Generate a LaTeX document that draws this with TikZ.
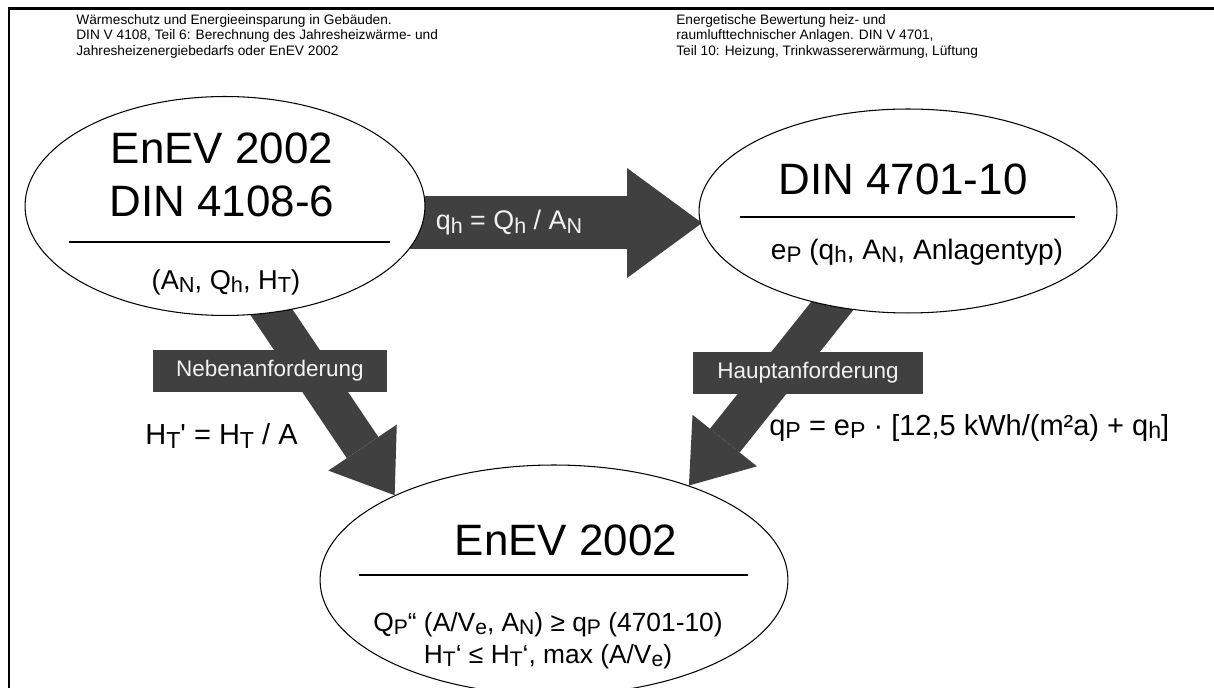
\documentclass[tikz,border=0pt]{standalone}
\usepackage{fontspec}
\setmainfont{Liberation Sans}
\usetikzlibrary{shapes.geometric,arrows.meta,positioning}
\pgfdeclarelayer{behind}
\pgfsetlayers{behind,main}
\definecolor{arrowgray}{HTML}{404040}
\definecolor{labelwhite}{HTML}{F2F2F2}
\newcommand{\sub}[1]{\raisebox{-0.12em}{\scalebox{0.8}{#1}}}

\begin{document}
\begin{tikzpicture}[x=0.02cm,y=-0.02cm]
	% Define the styles for the ovals, the block arrows and the texts
	\tikzset{
		oval/.style 2 args={ellipse, draw=black, line width=0.6pt, fill=white, inner sep=0pt,
			minimum width=#1, minimum height=#2},
		block arrow/.style n args={3}{draw=arrowgray, line width=#1,
			-{Triangle[length=#2, width=#3, line width=0pt]}},
		title/.style={font=\fontsize{25}{30}\selectfont, align=center, inner sep=0pt},
		formula/.style={font=\fontsize{#1}{18.2}\selectfont, align=center, inner sep=0pt},
		source/.style={font=\fontsize{7.8}{8.9}\selectfont, align=left, anchor=north west, inner sep=0pt},
		tag/.style={fill=arrowgray, text=labelwhite, font=\fontsize{12.8}{15}\selectfont,
			minimum width=#1, minimum height=0.84cm, inner sep=0pt}
	}
	
	\useasboundingbox (0,0) rectangle (1214,688);
	
	% Frame at the top and on the left
	\draw[line width=1.7pt] (9,688) -- (9,9) -- (1214,9);
	
	% Sources above the ovals
	\node[source] (srcleft) at (76,14) {Wärmeschutz und Energieeinsparung in Gebäuden.\\
		DIN V 4108, Teil 6: Berechnung des Jahresheizwärme- und\\
		Jahresheizenergiebedarfs oder EnEV 2002};
	\node[source] (srcright) at (676,14) {Energetische Bewertung heiz- und\\
		raumlufttechnischer Anlagen. DIN V 4701,\\
		Teil 10: Heizung, Trinkwassererwärmung, Lüftung};
	
	% Ovals
	\node[oval={8cm}{4.38cm}] (left) at (225,206) {};
	\node[oval={8.36cm}{4.08cm}] (right) at (908,211) {};
	\node[oval={9.36cm}{4.6cm}] (bottom) at (554,580) {};
	
	% Texts inside the ovals
	\node[title] (lefttitle) at (222,175) {EnEV 2002\\DIN 4108-6};
	\draw[line width=0.6pt] (69,242) -- (390,242);
	\node[formula=15.5] (leftsub) at (226,282) {(A\sub{N}, Q\sub{h}, H\sub{T})};
	
	\node[title] (righttitle) at (903,179) {DIN 4701-10};
	\draw[line width=0.6pt] (740,217) -- (1075,217);
	\node[formula=16] (rightsub) at (917,252) {e\sub{P} (q\sub{h}, A\sub{N}, Anlagentyp)};
	
	\node[title] (bottomtitle) at (566,540) {EnEV 2002};
	\draw[line width=0.6pt] (359,575) -- (748,575);
	\node[formula=15] (bottomsub) at (548,641) {Q\sub{P}“ (A/V\sub{e}, A\sub{N}) ≥ q\sub{P} (4701-10)\\
		H\sub{T}‘ ≤ H\sub{T}‘, max (A/V\sub{e})};
	
	% Block arrows behind the ovals
	\coordinate (qtip) at (702,223);
	\begin{pgfonlayer}{behind}
		\draw[block arrow={1.06cm}{1.5cm}{2.2cm}] (left.center |- qtip) -- (qtip);
		\draw[block arrow={0.76cm}{1.15cm}{1.65cm}] ([xshift=-0.5cm]left.center) -- (bottom.152);
		\draw[block arrow={0.76cm}{1.15cm}{1.65cm}] (right.center) -- (bottom.35);
	\end{pgfonlayer}
	
	% Labels on and beside the arrows
	\node[formula=15.3, text=labelwhite] (qhlabel) at (509,223) {q\sub{h} = Q\sub{h} / A\sub{N}};
	\node[tag=4.7cm] (neben) at (270,371) {Nebenanforderung};
	\node[tag=4.6cm] (haupt) at (808,373) {Hauptanforderung};
	\node[formula=16.5, anchor=west] (htlabel) at (145,436) {H\sub{T}\textquotesingle{} = H\sub{T} / A};
	\node[formula=16.5, anchor=west] (qplabel) at (769,428) {q\sub{P} = e\sub{P} · [12,5 kWh/(m²a) + q\sub{h}]};
\end{tikzpicture}
\end{document}
